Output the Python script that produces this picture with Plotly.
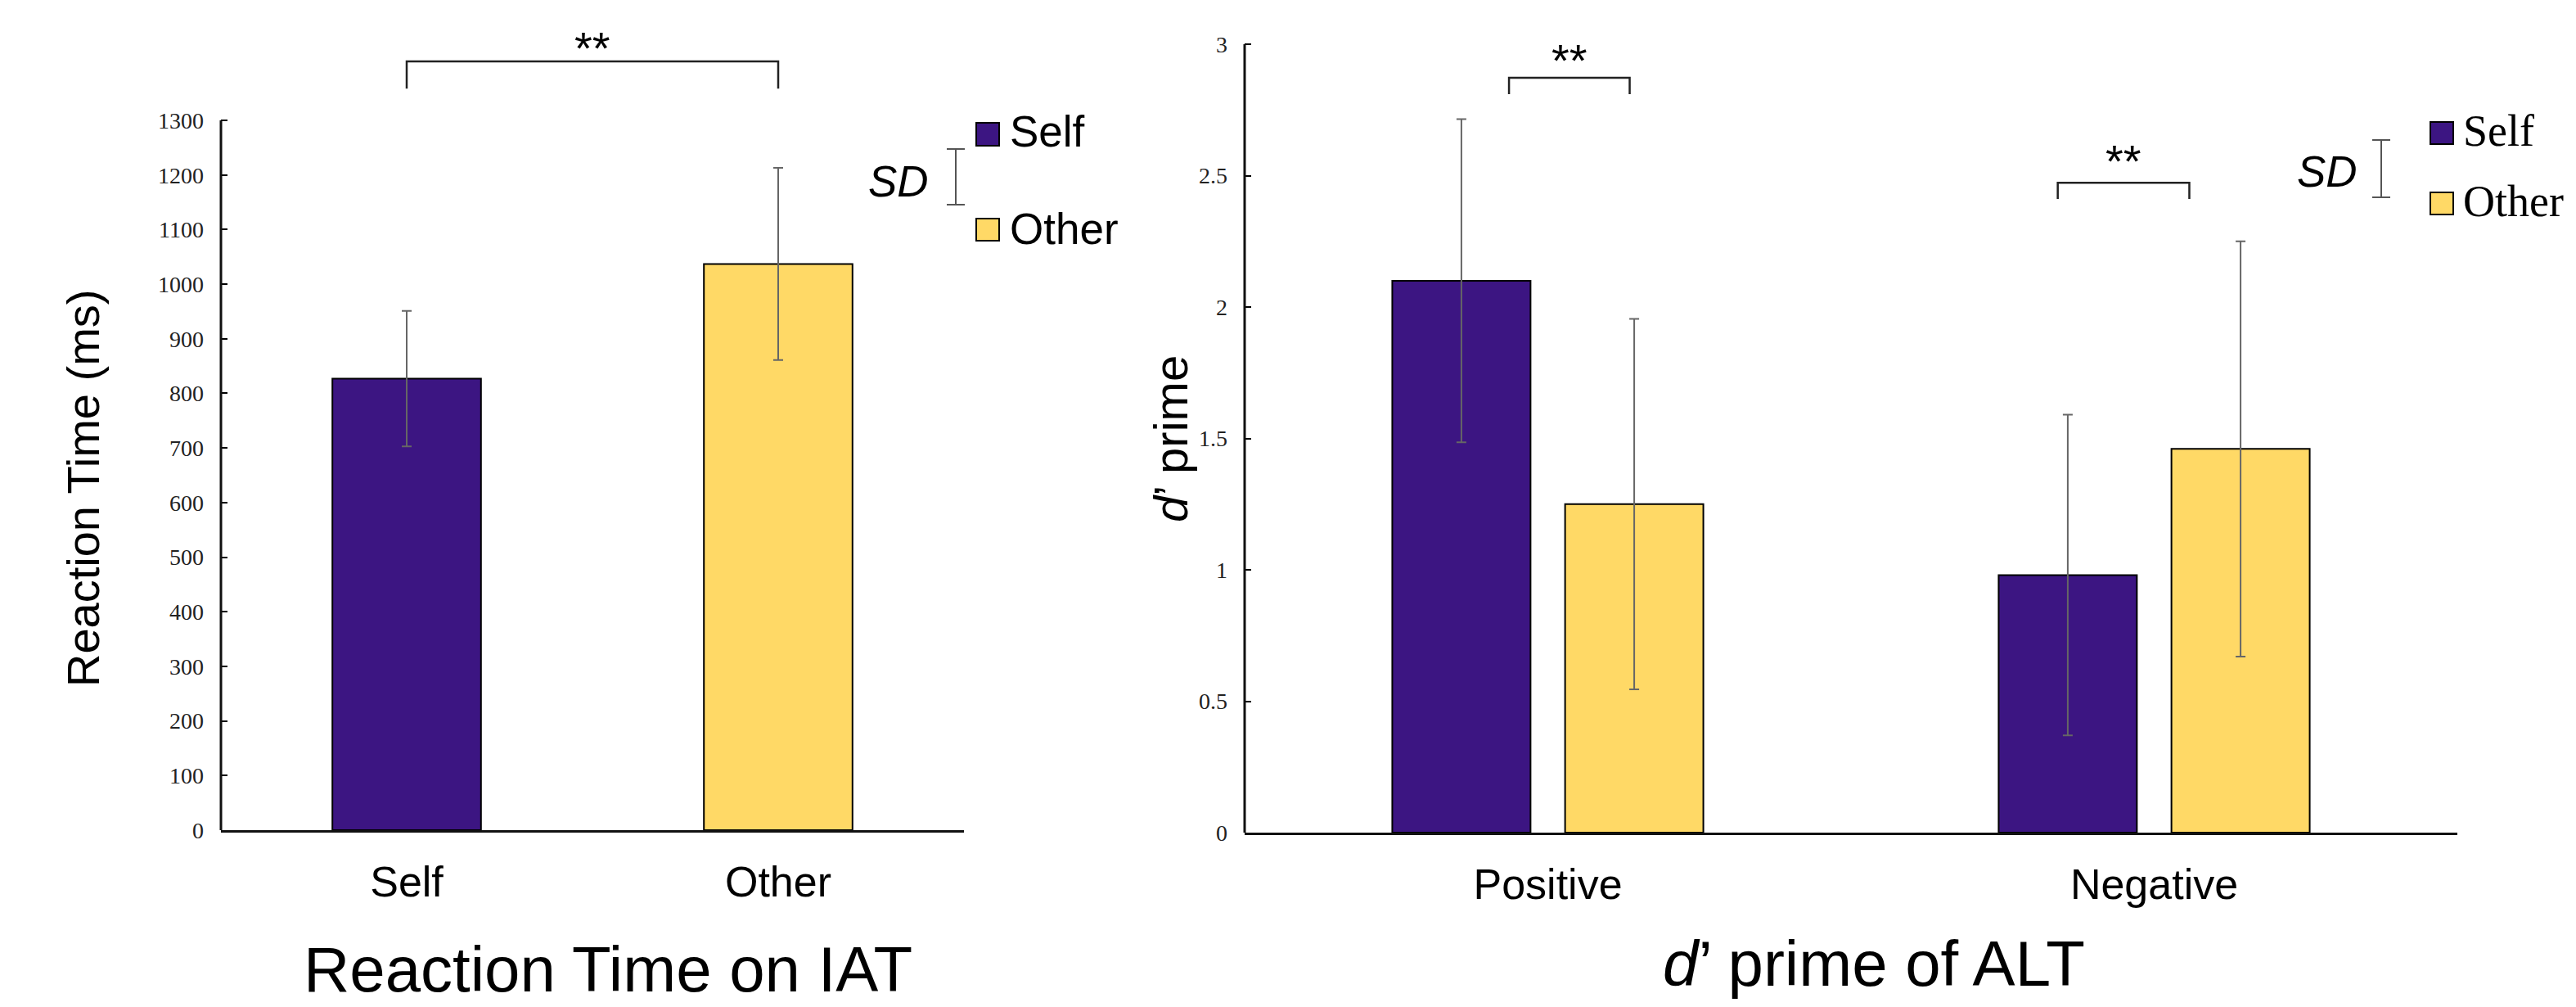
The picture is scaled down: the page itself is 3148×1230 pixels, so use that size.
import plotly.graph_objects as go

# ---------------- data ----------------
iat_categories = ["Self", "Other"]
iat_means = [827, 1037]
iat_sd = [124, 176]
iat_ticks = list(range(0, 1301, 100))

alt_categories = ["Positive", "Negative"]
alt_self_means = [2.10, 0.98]
alt_self_sd = [0.615, 0.61]
alt_other_means = [1.25, 1.46]
alt_other_sd = [0.705, 0.79]
alt_ticks = [0, 0.5, 1, 1.5, 2, 2.5, 3]
alt_ticktext = ["0", "0.5", "1", "1.5", "2", "2.5", "3"]

series_names = ["Self", "Other"]

# ---------------- styles ----------------
W, H = 3148, 1230
PURPLE = "#3C1582"
YELLOW = "#FFD966"
ERR = "#666666"
SANS = "Liberation Sans, Arial, sans-serif"
SERIF = "Liberation Serif, Times New Roman, serif"


def fx(p):
    return p / W


def fy(p):
    return 1 - p / H


fig = go.Figure()

# Left chart: reaction time
fig.add_trace(go.Bar(
    x=iat_categories, y=iat_means, width=0.40,
    marker=dict(color=[PURPLE, YELLOW], line=dict(color="black", width=2)),
    error_y=dict(type="data", array=iat_sd, visible=True, color=ERR, thickness=2, width=6),
    xaxis="x", yaxis="y", showlegend=False, hoverinfo="skip",
))

# Right chart: d' prime
fig.add_trace(go.Bar(
    name=series_names[0], x=alt_categories, y=alt_self_means, width=0.228, offset=-0.2565,
    marker=dict(color=PURPLE, line=dict(color="black", width=2)),
    error_y=dict(type="data", array=alt_self_sd, visible=True, color=ERR, thickness=2, width=6),
    xaxis="x2", yaxis="y2", showlegend=False, hoverinfo="skip",
))
fig.add_trace(go.Bar(
    name=series_names[1], x=alt_categories, y=alt_other_means, width=0.228, offset=0.0285,
    marker=dict(color=YELLOW, line=dict(color="black", width=2)),
    error_y=dict(type="data", array=alt_other_sd, visible=True, color=ERR, thickness=2, width=6),
    xaxis="x2", yaxis="y2", showlegend=False, hoverinfo="skip",
))

# geometry (page pixels)
L_X0, L_X1, L_BASE, L_TOP = 270, 1178, 1014, 147
R_X0, R_X1, R_BASE, R_TOP = 1521, 3003, 1017, 54
l_top_val = L_BASE * 1300 / (L_BASE - L_TOP)
r_top_val = R_BASE * 3 / (R_BASE - R_TOP)

xcommon = dict(range=[-0.5, 1.5], showline=True, linecolor="#111111", linewidth=3,
               ticks="", showgrid=False, zeroline=False, automargin=False,
               tickfont=dict(family=SANS, size=52, color="black"), ticklabelstandoff=16)
ycommon = dict(showline=False, showgrid=False, zeroline=False, ticks="inside", ticklen=8,
               tickwidth=2, tickcolor="black", automargin=False,
               tickfont=dict(family=SERIF, size=28, color="#222222"), ticklabelstandoff=20)

fig.update_layout(
    width=W, height=H, margin=dict(l=0, r=0, t=0, b=0, autoexpand=False),
    paper_bgcolor="white", plot_bgcolor="white",
    barmode="overlay",
    xaxis=dict(domain=[fx(L_X0), fx(L_X1)], anchor="y", **xcommon),
    yaxis=dict(domain=[fy(L_BASE), 1], anchor="x", range=[0, l_top_val],
               tickvals=iat_ticks, **ycommon),
    xaxis2=dict(domain=[fx(R_X0), fx(R_X1)], anchor="y2", **xcommon),
    yaxis2=dict(domain=[fy(R_BASE), 1], anchor="x2", range=[0, r_top_val],
                tickvals=alt_ticks, ticktext=alt_ticktext, **ycommon),
)

shapes = []
annots = []

# y axis lines (only up to the top tick)
shapes.append(dict(type="line", xref="paper", yref="y", x0=fx(L_X0), x1=fx(L_X0),
                   y0=0, y1=iat_ticks[-1], line=dict(color="#111111", width=3)))
shapes.append(dict(type="line", xref="paper", yref="y2", x0=fx(R_X0), x1=fx(R_X0),
                   y0=0, y1=alt_ticks[-1], line=dict(color="#111111", width=3)))


# significance brackets
def bracket(xref, yref, x0, x1, ytop, drop, star_y):
    shapes.append(dict(type="path", xref=xref, yref=yref,
                       path=f"M {x0},{ytop - drop} L {x0},{ytop} L {x1},{ytop} L {x1},{ytop - drop}",
                       line=dict(color="#222222", width=2.5)))
    annots.append(dict(xref=xref, yref=yref, x=(x0 + x1) / 2, y=star_y, text="**",
                       showarrow=False, xanchor="center", yanchor="middle",
                       font=dict(family=SANS, size=56, color="black")))


bracket("x", "y", 0, 1, 1408, 50, 1432)
bracket("x2", "y2", -0.064, 0.135, 2.872, 0.062, 2.938)
bracket("x2", "y2", 0.841, 1.058, 2.473, 0.062, 2.555)


# legends (drawn manually)
def legend(sd_x, beam_x, beam_y0, beam_y1, sq_x0, sq_x1, sq_ys, lab_x, lab_ys, sd_y, font, size):
    annots.append(dict(xref="paper", yref="paper", x=fx(sd_x), y=fy(sd_y), text="<i>SD</i>",
                       showarrow=False, xanchor="center", yanchor="middle",
                       font=dict(family=SANS, size=53, color="black")))
    shapes.append(dict(type="line", xref="paper", yref="paper", x0=fx(beam_x), x1=fx(beam_x),
                       y0=fy(beam_y0), y1=fy(beam_y1), line=dict(color="#555555", width=2)))
    for yy in (beam_y0, beam_y1):
        shapes.append(dict(type="line", xref="paper", yref="paper", x0=fx(beam_x - 11),
                           x1=fx(beam_x + 11), y0=fy(yy), y1=fy(yy),
                           line=dict(color="#555555", width=2)))
    for (y0, y1), col, name, ly in zip(sq_ys, [PURPLE, YELLOW], series_names, lab_ys):
        shapes.append(dict(type="rect", xref="paper", yref="paper", x0=fx(sq_x0), x1=fx(sq_x1),
                           y0=fy(y1), y1=fy(y0), fillcolor=col, line=dict(color="black", width=2)))
        annots.append(dict(xref="paper", yref="paper", x=fx(lab_x), y=fy(ly), text=name,
                           showarrow=False, xanchor="left", yanchor="middle",
                           font=dict(family=font, size=size, color="black")))


legend(1098, 1168, 182, 250, 1193, 1221, [(150, 178), (267, 294)], 1232, [161, 279], 221, SANS, 53)
legend(2844, 2910, 171, 241, 2970, 2998, [(149, 176), (235, 262)], 3008, [160, 246], 209, SERIF, 54)

# y axis titles
annots.append(dict(xref="paper", yref="paper", x=fx(101), y=fy(597), text="Reaction Time (ms)",
                   textangle=-90, showarrow=False, xanchor="center", yanchor="middle",
                   font=dict(family=SANS, size=56, color="black")))
annots.append(dict(xref="paper", yref="paper", x=fx(1430), y=fy(536), text="<i>d</i>’ prime",
                   textangle=-90, showarrow=False, xanchor="center", yanchor="middle",
                   font=dict(family=SANS, size=58, color="black")))

# chart titles
annots.append(dict(xref="paper", yref="paper", x=fx(743), y=fy(1184), text="Reaction Time on IAT",
                   showarrow=False, xanchor="center", yanchor="middle", borderpad=0,
                   font=dict(family=SANS, size=78, color="black")))
annots.append(dict(xref="paper", yref="paper", x=fx(2290), y=fy(1177), text="<i>d</i>’ prime of ALT",
                   showarrow=False, xanchor="center", yanchor="middle", borderpad=0,
                   font=dict(family=SANS, size=78, color="black")))

fig.update_layout(shapes=shapes, annotations=annots)

fig.write_html("out.html", config=dict(displayModeBar=False),
               post_script="document.body.style.margin='0';document.body.style.overflow='hidden';")
